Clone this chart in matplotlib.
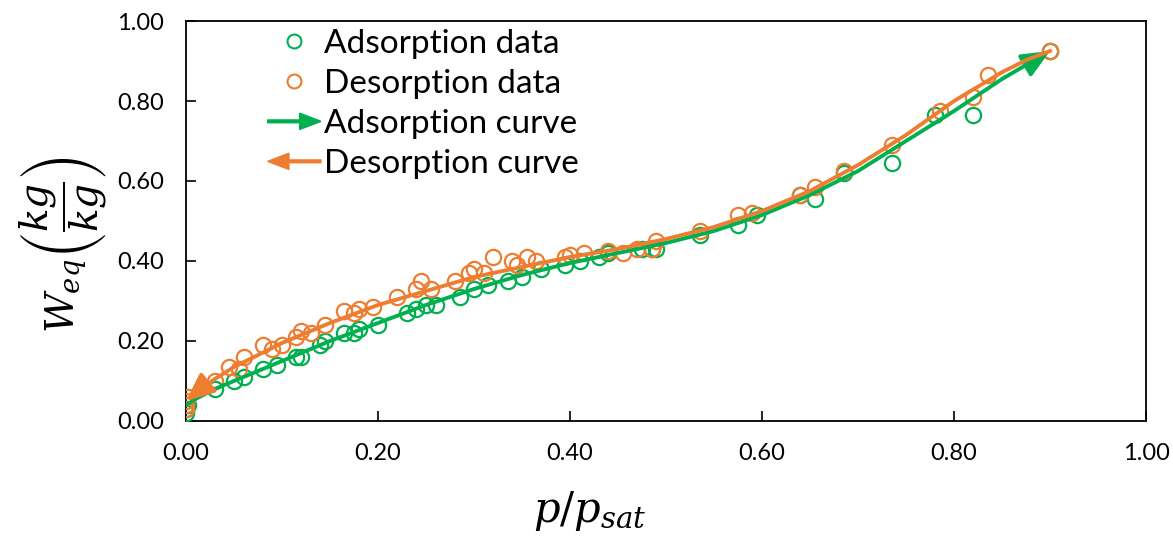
import numpy as np
import matplotlib
matplotlib.use("Agg")
from matplotlib import pyplot as plt
from matplotlib.lines import Line2D
from matplotlib.patches import FancyArrow
from matplotlib.legend_handler import HandlerPatch

# dados
ads_x = [0.0, 0.0, 0.002, 0.03, 0.05, 0.06, 0.08, 0.095, 0.115, 0.12, 0.14, 0.145,
         0.165, 0.175, 0.18, 0.20, 0.23, 0.24, 0.25, 0.26, 0.285, 0.30, 0.315, 0.335,
         0.35, 0.37, 0.395, 0.41, 0.43, 0.44, 0.475, 0.485, 0.49, 0.535, 0.575, 0.595,
         0.64, 0.655, 0.685, 0.735, 0.78, 0.82, 0.90]
ads_y = [0.02, 0.03, 0.04, 0.08, 0.10, 0.11, 0.13, 0.14, 0.16, 0.16, 0.19, 0.20,
         0.22, 0.22, 0.23, 0.24, 0.27, 0.28, 0.29, 0.29, 0.31, 0.33, 0.34, 0.35,
         0.36, 0.38, 0.39, 0.40, 0.41, 0.42, 0.43, 0.43, 0.43, 0.465, 0.49, 0.515,
         0.565, 0.555, 0.62, 0.645, 0.765, 0.765, 0.925]

des_x = [0.0, 0.0, 0.0, 0.002, 0.03, 0.045, 0.055, 0.06, 0.08, 0.09, 0.10, 0.115,
         0.12, 0.13, 0.145, 0.165, 0.175, 0.18, 0.195, 0.22, 0.24, 0.245, 0.255, 0.28,
         0.295, 0.30, 0.31, 0.32, 0.34, 0.345, 0.355, 0.365, 0.395, 0.40, 0.415, 0.44,
         0.455, 0.47, 0.485, 0.49, 0.535, 0.575, 0.59, 0.64, 0.655, 0.685, 0.735,
         0.785, 0.82, 0.835, 0.90]
des_y = [0.03, 0.04, 0.05, 0.06, 0.10, 0.135, 0.13, 0.16, 0.19, 0.18, 0.19, 0.21,
         0.225, 0.22, 0.24, 0.275, 0.27, 0.28, 0.285, 0.31, 0.33, 0.35, 0.33, 0.35,
         0.37, 0.38, 0.37, 0.41, 0.40, 0.39, 0.41, 0.40, 0.41, 0.415, 0.42, 0.425,
         0.42, 0.43, 0.43, 0.45, 0.475, 0.515, 0.52, 0.565, 0.585, 0.625, 0.69,
         0.775, 0.81, 0.865, 0.925]

# curvas ajustadas
ads_curve_x = [0.0, 0.01, 0.03, 0.05, 0.1, 0.15, 0.2, 0.25, 0.3, 0.35, 0.4, 0.45,
               0.5, 0.55, 0.6, 0.65, 0.7, 0.75, 0.8, 0.85, 0.875, 0.9]
ads_curve_y = [0.04, 0.055, 0.08, 0.10, 0.15, 0.20, 0.245, 0.29, 0.33, 0.365, 0.395, 0.42,
               0.445, 0.475, 0.515, 0.565, 0.625, 0.70, 0.775, 0.855, 0.89, 0.925]
des_curve_x = [0.9, 0.875, 0.85, 0.8, 0.75, 0.7, 0.65, 0.6, 0.55, 0.5, 0.45, 0.4,
               0.35, 0.3, 0.25, 0.2, 0.15, 0.1, 0.05, 0.03, 0.01, 0.0]
des_curve_y = [0.925, 0.902, 0.872, 0.80, 0.715, 0.64, 0.575, 0.525, 0.485, 0.455, 0.43, 0.41,
               0.385, 0.36, 0.325, 0.29, 0.245, 0.195, 0.135, 0.105, 0.07, 0.05]

ticks = [0.0, 0.2, 0.4, 0.6, 0.8, 1.0]
tick_labels = ["0.00", "0.20", "0.40", "0.60", "0.80", "1.00"]

green = "#00B050"
orange = "#ED7D31"

plt.rcParams["font.family"] = ["Lato", "DejaVu Sans"]
plt.rcParams["mathtext.fontset"] = "dejavuserif"

fig = plt.figure(figsize=(11.73, 5.36), dpi=100)
ax = fig.add_axes([0.1586, 0.2146, 0.8184, 0.7462])

ax.plot(ads_x, ads_y, "o", mfc="none", mec=green, ms=11, mew=1.6, zorder=3)
ax.plot(des_x, des_y, "o", mfc="none", mec=orange, ms=11, mew=1.6, zorder=3)

head = "-|>,head_length=1.7,head_width=0.75"
ax.plot(ads_curve_x[:-1], ads_curve_y[:-1], color=green, lw=2.8, zorder=4)
ax.annotate("", xy=(ads_curve_x[-1], ads_curve_y[-1]), xytext=(ads_curve_x[-2], ads_curve_y[-2]),
            arrowprops=dict(arrowstyle=head, color=green, lw=2.8, shrinkA=0, shrinkB=0), zorder=4)
ax.plot(des_curve_x[:-1], des_curve_y[:-1], color=orange, lw=2.8, zorder=5)
ax.annotate("", xy=(des_curve_x[-1], des_curve_y[-1]), xytext=(des_curve_x[-2], des_curve_y[-2]),
            arrowprops=dict(arrowstyle=head, color=orange, lw=2.8, shrinkA=0, shrinkB=0), zorder=5)

ax.set_xlim(0, 1)
ax.set_ylim(0, 1)
ax.set_xticks(ticks)
ax.set_xticklabels(tick_labels)
ax.set_yticks(ticks)
ax.set_yticklabels(tick_labels)
ax.tick_params(direction="in", length=7, width=1.2, labelsize=17, pad=16)
for s in ax.spines.values():
    s.set_linewidth(1.3)

ax.set_xlabel(r"$p/p_{sat}$", fontsize=30)
ax.xaxis.set_label_coords((590 - 186) / 960, -0.17)
ax.set_ylabel(r"$W_{eq}\left(\dfrac{kg}{kg}\right)$", fontsize=28)
ax.yaxis.set_label_coords(-0.08, 0.44)


def arrow_right(legend, orig_handle, xdescent, ydescent, width, height, fontsize):
    return FancyArrow(0, height / 2, width, 0, width=height * 0.12, head_width=height * 0.7,
                      head_length=width * 0.4, length_includes_head=True)


def arrow_left(legend, orig_handle, xdescent, ydescent, width, height, fontsize):
    return FancyArrow(width, height / 2, -width, 0, width=height * 0.12, head_width=height * 0.7,
                      head_length=width * 0.4, length_includes_head=True)


h1 = Line2D([], [], ls="none", marker="o", mfc="none", mec=green, ms=10, mew=1.5)
h2 = Line2D([], [], ls="none", marker="o", mfc="none", mec=orange, ms=10, mew=1.5)
h3 = FancyArrow(0, 0, 1, 0, color=green)
h4 = FancyArrow(0, 0, 1, 0, color=orange)
ax.legend([h1, h2, h3, h4],
          ["Adsorption data", "Desorption data", "Adsorption curve", "Desorption curve"],
          handler_map={h3: HandlerPatch(patch_func=arrow_right), h4: HandlerPatch(patch_func=arrow_left)},
          loc="upper left", bbox_to_anchor=(0.085, 0.98), frameon=False, fontsize=24,
          borderpad=0, borderaxespad=0, handlelength=1.6, handletextpad=0.1, labelspacing=0.3)

fig.savefig("out.png", dpi=100)
